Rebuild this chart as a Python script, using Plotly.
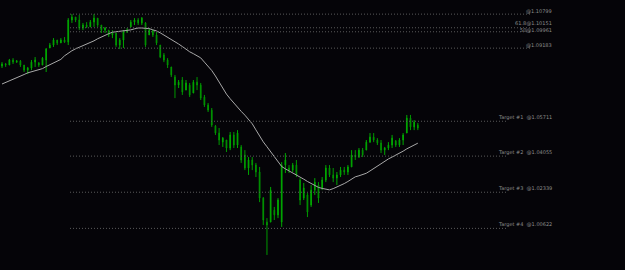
import plotly.graph_objects as go

# OHLC data (EURUSD-like daily bars)
opens = [1.0833,1.0843,1.0838,1.0862,1.0852,1.0857,1.0838,1.0814,1.0824,1.0852,
         1.0848,1.0838,1.0862,1.0919,1.0933,1.0957,1.0943,1.0957,1.0947,1.1052,
         1.1066,1.1052,1.1014,1.1028,1.1019,1.1042,1.1061,1.1028,1.1004,1.1004,
         1.0981,1.0990,1.0933,1.0957,1.0995,1.1019,1.1042,1.1052,1.1038,1.1038,
         1.0981,1.1004,1.0981,1.0933,1.0886,1.0862,1.0829,1.0781,1.0743,1.0767,
         1.0719,1.0743,1.0705,1.0757,1.0743,1.0686,1.0648,1.0624,1.0548,1.0515,
         1.0472,1.0482,1.0444,1.0506,1.0458,1.0449,1.0411,1.0349,1.0387,1.0363,
         1.0330,1.0206,1.0092,1.0092,1.0149,1.0126,1.0092,1.0363,1.0349,1.0339,
         1.0363,1.0292,1.0206,1.0221,1.0173,1.0244,1.0268,1.0254,1.0292,1.0349,
         1.0316,1.0301,1.0316,1.0339,1.0330,1.0354,1.0411,1.0401,1.0434,1.0434,
         1.0472,1.0496,1.0482,1.0468,1.0434,1.0444,1.0458,1.0477,1.0458,1.0482,
         1.0515,1.0586,1.0544,1.0553]
highs = [1.0852,1.0848,1.0867,1.0871,1.0862,1.0862,1.0838,1.0829,1.0862,1.0876,
         1.0852,1.0876,1.0919,1.0943,1.0966,1.0957,1.0966,1.0971,1.1061,1.1080,
         1.1066,1.1076,1.1038,1.1042,1.1052,1.1080,1.1061,1.1028,1.1019,1.1004,
         1.1004,1.0990,1.0966,1.1004,1.1014,1.1052,1.1061,1.1061,1.1066,1.1042,
         1.1014,1.1004,1.0995,1.0933,1.0895,1.0871,1.0829,1.0791,1.0767,1.0781,
         1.0767,1.0753,1.0767,1.0781,1.0753,1.0696,1.0658,1.0634,1.0553,1.0539,
         1.0496,1.0482,1.0520,1.0520,1.0529,1.0458,1.0434,1.0401,1.0401,1.0373,
         1.0354,1.0211,1.0111,1.0259,1.0164,1.0206,1.0377,1.0420,1.0363,1.0373,
         1.0387,1.0301,1.0278,1.0230,1.0268,1.0301,1.0282,1.0306,1.0363,1.0363,
         1.0349,1.0330,1.0354,1.0354,1.0363,1.0434,1.0434,1.0444,1.0444,1.0482,
         1.0515,1.0515,1.0491,1.0482,1.0449,1.0472,1.0506,1.0482,1.0491,1.0515,
         1.0601,1.0601,1.0577,1.0563]
lows = [1.0824,1.0829,1.0838,1.0843,1.0848,1.0829,1.0805,1.0795,1.0814,1.0829,
        1.0829,1.0838,1.0805,1.0919,1.0924,1.0933,1.0943,1.0943,1.0933,1.1038,
        1.1042,1.1004,1.1004,1.1014,1.1019,1.1019,1.1019,1.0990,1.0990,1.0971,
        1.0966,1.0924,1.0914,1.0919,1.0990,1.1019,1.1028,1.1028,1.1028,1.0924,
        1.0981,1.0971,1.0933,1.0871,1.0852,1.0824,1.0781,1.0681,1.0729,1.0696,
        1.0719,1.0686,1.0705,1.0719,1.0672,1.0639,1.0615,1.0544,1.0506,1.0458,
        1.0449,1.0425,1.0434,1.0444,1.0444,1.0373,1.0339,1.0316,1.0339,1.0306,
        1.0187,1.0078,0.9936,1.0092,1.0102,1.0111,1.0069,1.0325,1.0325,1.0330,
        1.0306,1.0173,1.0197,1.0116,1.0164,1.0221,1.0183,1.0244,1.0282,1.0306,
        1.0282,1.0268,1.0306,1.0316,1.0316,1.0354,1.0387,1.0397,1.0401,1.0434,
        1.0468,1.0472,1.0458,1.0420,1.0411,1.0434,1.0444,1.0449,1.0449,1.0458,
        1.0515,1.0529,1.0529,1.0529]
closes = [1.0843,1.0838,1.0862,1.0852,1.0857,1.0838,1.0814,1.0824,1.0852,1.0862,
          1.0838,1.0871,1.0914,1.0933,1.0957,1.0943,1.0957,1.0947,1.1052,1.1066,
          1.1052,1.1014,1.1028,1.1019,1.1042,1.1061,1.1028,1.1004,1.1014,1.0981,
          1.0995,1.0933,1.0957,1.0995,1.1004,1.1042,1.1052,1.1038,1.1061,1.0933,
          1.1004,1.0981,1.0943,1.0876,1.0862,1.0838,1.0791,1.0743,1.0757,1.0710,
          1.0753,1.0696,1.0757,1.0743,1.0681,1.0648,1.0624,1.0553,1.0515,1.0482,
          1.0491,1.0444,1.0506,1.0458,1.0515,1.0387,1.0349,1.0387,1.0363,1.0330,
          1.0206,1.0102,1.0078,1.0244,1.0126,1.0197,1.0363,1.0387,1.0339,1.0363,
          1.0316,1.0197,1.0254,1.0140,1.0244,1.0282,1.0206,1.0292,1.0349,1.0316,
          1.0301,1.0316,1.0339,1.0330,1.0354,1.0411,1.0401,1.0434,1.0411,1.0472,
          1.0496,1.0482,1.0468,1.0434,1.0444,1.0458,1.0491,1.0458,1.0482,1.0506,
          1.0586,1.0544,1.0567,1.0539]
ma = [1.0748,1.0755,1.0763,1.0770,1.0776,1.0785,1.0793,1.0801,1.0806,1.0811,
      1.0815,1.0821,1.0831,1.0839,1.0848,1.0856,1.0865,1.0882,1.0896,1.0906,
      1.0915,1.0922,1.0929,1.0936,1.0944,1.0953,1.0963,1.0972,1.0980,1.0987,
      1.0994,1.0996,1.0997,1.0998,1.1000,1.1005,1.1010,1.1014,1.1014,1.1014,
      1.1011,1.1005,1.1000,1.0991,1.0981,1.0972,1.0962,1.0950,1.0938,1.0926,
      1.0913,1.0901,1.0892,1.0883,1.0872,1.0852,1.0832,1.0812,1.0786,1.0757,
      1.0729,1.0700,1.0678,1.0657,1.0636,1.0618,1.0600,1.0582,1.0559,1.0530,
      1.0501,1.0473,1.0450,1.0426,1.0403,1.0379,1.0356,1.0345,1.0336,1.0326,
      1.0316,1.0307,1.0296,1.0285,1.0275,1.0266,1.0257,1.0252,1.0248,1.0245,
      1.0251,1.0258,1.0265,1.0275,1.0285,1.0296,1.0307,1.0312,1.0318,1.0324,
      1.0335,1.0347,1.0359,1.0371,1.0381,1.0392,1.0401,1.0410,1.0418,1.0429,
      1.0440,1.0450,1.0459,1.0467]

level_prices = [1.10799, 1.10151, 1.09961, 1.09183, 1.05711, 1.04055, 1.02339, 1.00622]
level_labels = ["@1.10799", "61.8@1.10151", "50@1.09961", "@1.09183",
                "Target #1  @1.05711", "Target #2  @1.04055",
                "Target #3  @1.02339", "Target #4  @1.00622"]

x = list(range(len(opens)))

W, H = 625, 270
bar_px = 3.68      # pixel spacing per bar
x0_px = 2.0        # pixel position of first bar
xr = [(0 - x0_px) / bar_px, (W - x0_px) / bar_px]

fig = go.Figure()
fig.add_trace(go.Candlestick(
    x=x, open=opens, high=highs, low=lows, close=closes,
    increasing=dict(line=dict(color="#00a800", width=1), fillcolor="#00a800"),
    decreasing=dict(line=dict(color="#009800", width=1), fillcolor="#004c00"),
    whiskerwidth=0, showlegend=False, hoverinfo="skip",
))
fig.add_trace(go.Scatter(
    x=x, y=ma, mode="lines", line=dict(color="#a8a8a8", width=1),
    showlegend=False, hoverinfo="skip",
))

line_end_px = [531, 531, 531, 531, 508, 508, 508, 508]
label_shift = [0, 2, -1, 0, 0, 0, 0, 0]
for p, lab, xe, ys in zip(level_prices, level_labels, line_end_px, label_shift):
    fig.add_shape(type="line", xref="paper", yref="y",
                  x0=70 / W, x1=xe / W, y0=p, y1=p,
                  line=dict(color="#5a5a5a", width=1, dash="1px,2px"))
    fig.add_annotation(xref="paper", yref="y", x=553 / W, y=p,
                       text=lab, showarrow=False, xanchor="right", yanchor="bottom",
                       font=dict(family="DejaVu Sans", size=5, color="#8c8c8c"),
                       borderpad=0, yshift=-1 + ys)

fig.update_layout(
    width=W, height=H,
    margin=dict(l=0, r=0, t=0, b=0),
    paper_bgcolor="#050408", plot_bgcolor="#050408",
    xaxis=dict(range=xr, visible=False, rangeslider=dict(visible=False),
               showgrid=False, zeroline=False),
    yaxis=dict(range=[1.1147 - 0.000475 * H, 1.1147], visible=False,
               showgrid=False, zeroline=False),
    boxgap=0.72,
)

fig.write_html("out.html")
